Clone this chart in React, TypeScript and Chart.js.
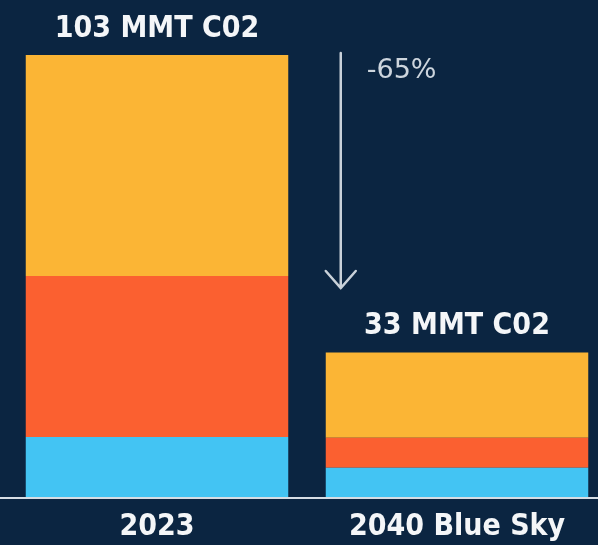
import React, { useEffect, useRef } from "react";
import { Chart, registerables } from "chart.js";

Chart.register(...registerables);

const categories = ["2023", "2040 Blue Sky"];
const blueValues = [14, 6.8];
const orangeValues = [37.5, 7];
const yellowValues = [51.5, 19.9];
const totalLabels = ["103 MMT C02", "33 MMT C02"];
const changeLabel = "-65%";
const arrowEndValue = 48.7;
const yMax = 110;

const BG = "#0b2541";
const FONT = "'DejaVu Sans Condensed', 'DejaVu Sans', sans-serif";

const overlayPlugin = {
  id: "overlay",
  beforeDraw(chart: any) {
    const { ctx, width, height } = chart;
    ctx.save();
    ctx.fillStyle = BG;
    ctx.fillRect(0, 0, width, height);
    ctx.restore();
  },
  afterDatasetsDraw(chart: any) {
    const { ctx, width } = chart;
    const y = chart.scales.y;
    const topMeta = chart.getDatasetMeta(chart.data.datasets.length - 1);
    const n = chart.data.labels.length;
    ctx.save();
    // totals labels
    ctx.fillStyle = "#f4f6f8";
    ctx.font = `bold 30px ${FONT}`;
    ctx.textAlign = "center";
    ctx.textBaseline = "alphabetic";
    for (let i = 0; i < n; i++) {
      let total = 0;
      chart.data.datasets.forEach((d: any) => (total += d.data[i]));
      const bar = topMeta.data[i];
      ctx.fillText(totalLabels[i], bar.x, y.getPixelForValue(total) - 18);
    }
    // baseline
    const base = y.getPixelForValue(0);
    ctx.fillStyle = "#d6dde4";
    ctx.fillRect(0, base, width, 2);
    // arrow
    const bar2 = topMeta.data[1];
    const t1 = blueValues[0] + orangeValues[0] + yellowValues[0];
    const ax = bar2.x - bar2.width / 2 + 15;
    const ay0 = y.getPixelForValue(t1) - 2;
    const ay1 = y.getPixelForValue(arrowEndValue);
    ctx.strokeStyle = "#c9d1d9";
    ctx.lineWidth = 2.5;
    ctx.lineCap = "round";
    ctx.beginPath();
    ctx.moveTo(ax, ay0);
    ctx.lineTo(ax, ay1);
    ctx.moveTo(ax - 15, ay1 - 17);
    ctx.lineTo(ax, ay1);
    ctx.lineTo(ax + 15, ay1 - 17);
    ctx.stroke();
    // change label
    ctx.fillStyle = "#cdd5dd";
    ctx.font = `27px 'DejaVu Sans', sans-serif`;
    ctx.textAlign = "left";
    ctx.fillText(changeLabel, ax + 26, ay0 + 25);
    ctx.restore();
  },
};

export default function App() {
  const ref = useRef<HTMLCanvasElement>(null);
  useEffect(() => {
    if (!ref.current) return;
    const chart = new Chart(ref.current, {
      type: "bar",
      data: {
        labels: categories,
        datasets: [
          { label: "Blue", data: blueValues, backgroundColor: "#43c4f3" },
          { label: "Orange", data: orangeValues, backgroundColor: "#fb6030" },
          { label: "Yellow", data: yellowValues, backgroundColor: "#fbb535" },
        ],
      },
      options: {
        responsive: false,
        animation: false,
        devicePixelRatio: 1,
        layout: { padding: { top: 25, left: 7, right: 7, bottom: 0 } },
        datasets: { bar: { barPercentage: 0.875, categoryPercentage: 1, borderWidth: 0 } },
        plugins: { legend: { display: false }, tooltip: { enabled: false } },
        scales: {
          x: {
            stacked: true,
            grid: { display: false, drawTicks: false },
            border: { display: false },
            ticks: {
              color: "#f4f6f8",
              padding: 12,
              font: { family: FONT, size: 30, weight: "bold" },
            },
          },
          y: { stacked: true, display: false, min: 0, max: yMax },
        },
      },
      plugins: [overlayPlugin],
    });
    return () => chart.destroy();
  }, []);
  return (
    <div
      style={{
        position: "fixed",
        left: 0,
        top: 0,
        width: 598,
        height: 545,
        overflow: "hidden",
        background: BG,
      }}
    >
      <canvas ref={ref} width={614} height={557} style={{ display: "block" }} />
    </div>
  );
}
